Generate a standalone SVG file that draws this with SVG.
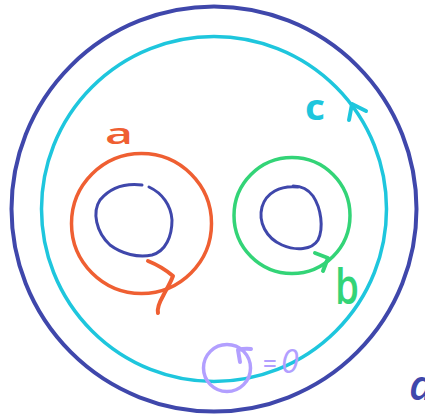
<svg xmlns="http://www.w3.org/2000/svg" width="425" height="415" viewBox="0 0 425 415">
<style>
.ln{fill:none;stroke-linecap:round;stroke-linejoin:round}
.blue{stroke:#3f47ab}
.cyan{stroke:#1ec6dd}
.orange{stroke:#ef5f32}
.green{stroke:#33d477}
.purple{stroke:#b29fff}
.lbl{font-family:"Open Sans","DejaVu Sans",sans-serif}
</style>
<rect width="425" height="415" fill="#ffffff"/>
<g id="outer-a">
<circle class="ln blue" cx="214" cy="209" r="202.5" stroke-width="4"/>
<text class="lbl" x="409" y="400" font-size="42" font-style="italic" font-weight="600" fill="#3f47ab">a</text>
</g>
<g id="loop-c">
<circle class="ln cyan" cx="214" cy="209" r="172.5" stroke-width="3.5"/>
<text class="lbl" x="305" y="120" font-size="36" font-weight="bold" fill="#1ec6dd" textLength="20" lengthAdjust="spacingAndGlyphs">c</text>
</g>
<g id="loop-a">
<circle class="ln orange" cx="141.5" cy="223.5" r="70" stroke-width="3.5"/>
<path class="ln blue" stroke-width="3" d="M142,185 C125,183 110,188 100,200 C92,212 96,232 110,245 C122,254 138,258 152,255 C166,251 172,236 172,220 C171,205 162,193 149,187"/>
<text class="lbl" x="105" y="144" font-size="29" font-weight="600" fill="#ef5f32" textLength="28" lengthAdjust="spacingAndGlyphs">a</text>
</g>
<g id="loop-b">
<circle class="ln green" cx="292" cy="215.5" r="58" stroke-width="3.5"/>
<path class="ln blue" stroke-width="3" d="M298,187 C280,185 266,193 262,207 C258,222 266,238 282,245 C296,251 312,250 318,240 C324,228 321,208 313,196 C308,189 302,186 293,186"/>
<text class="lbl" x="335" y="304" font-size="48" font-weight="600" fill="#33d477" textLength="24" lengthAdjust="spacingAndGlyphs">b</text>
</g>
<g id="trivial-loop">
<circle class="ln purple" cx="227" cy="368" r="23.5" stroke-width="3.5"/>
<text class="lbl" x="263" y="372" font-size="24" font-weight="600" fill="#b29fff">=</text>
<text class="lbl" x="281" y="373" font-size="32" font-style="italic" fill="#b29fff">0</text>
</g>
<g id="connectors">
<path class="ln orange" stroke-width="4" d="M148,261 C158,265 166,270 173,276 C170,284 166,290 163,296 C159,303 157,308 158,313"/>
<path class="ln green" stroke-width="4" d="M315,253 L328,258 L323,271"/>
<path class="ln cyan" stroke-width="4" d="M349,120 L352,104 L366,111"/>
<path class="ln purple" stroke-width="4" d="M240,362 L238,350 Q245,348 251,349"/>
</g>
</svg>
